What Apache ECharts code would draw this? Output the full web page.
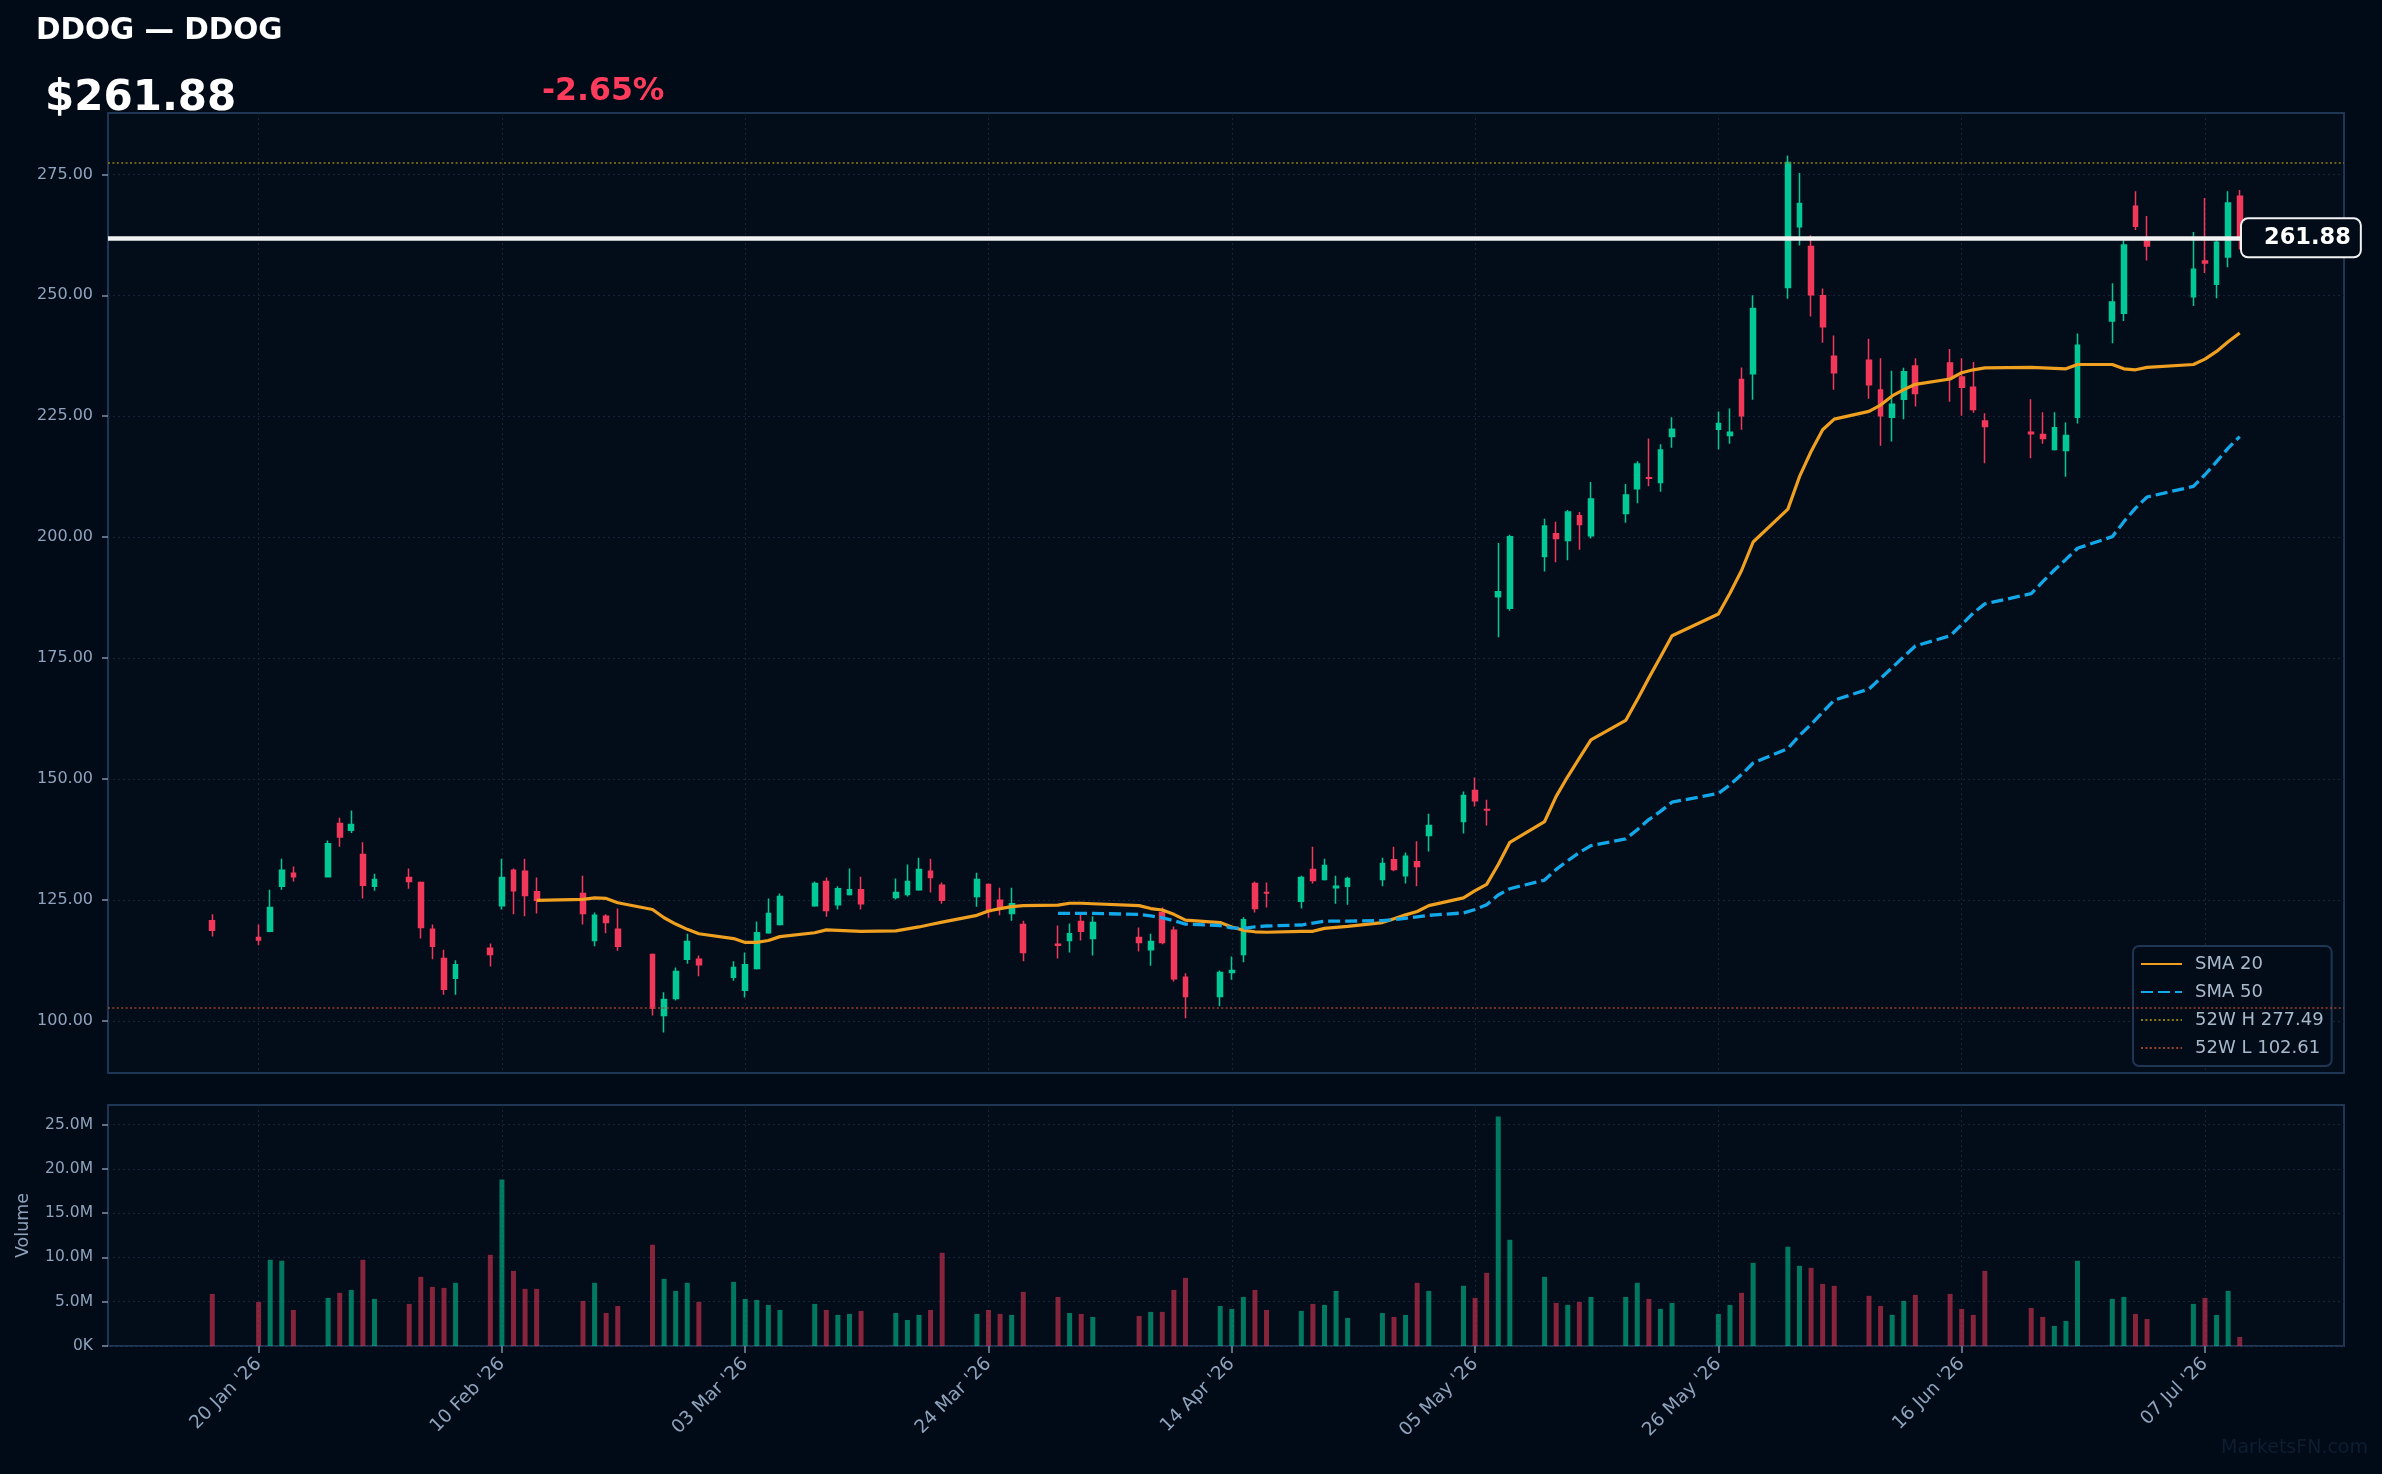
<!DOCTYPE html>
<html>
<head>
<meta charset="utf-8">
<title>DDOG — DDOG</title>
<script src="https://cdn.jsdelivr.net/npm/echarts@6/dist/echarts.min.js"></script>
<style>
  html, body { margin: 0; padding: 0; background: #010b17; }
  #chart { width: 2382px; height: 1474px; }
</style>
</head>
<body>
<div id="chart"></div>
<script>
// header
const ticker = 'DDOG';
const company = 'DDOG';
const lastPrice = 261.88;
const changePct = -2.65;
const high52 = 277.49;
const low52 = 102.61;

// trading days
const dates = [
  '2026-01-16', '2026-01-20', '2026-01-21', '2026-01-22', '2026-01-23',
  '2026-01-26', '2026-01-27', '2026-01-28', '2026-01-29', '2026-01-30',
  '2026-02-02', '2026-02-03', '2026-02-04', '2026-02-05', '2026-02-06',
  '2026-02-09', '2026-02-10', '2026-02-11', '2026-02-12', '2026-02-13',
  '2026-02-17', '2026-02-18', '2026-02-19', '2026-02-20',
  '2026-02-23', '2026-02-24', '2026-02-25', '2026-02-26', '2026-02-27',
  '2026-03-02', '2026-03-03', '2026-03-04', '2026-03-05', '2026-03-06',
  '2026-03-09', '2026-03-10', '2026-03-11', '2026-03-12', '2026-03-13',
  '2026-03-16', '2026-03-17', '2026-03-18', '2026-03-19', '2026-03-20',
  '2026-03-23', '2026-03-24', '2026-03-25', '2026-03-26', '2026-03-27',
  '2026-03-30', '2026-03-31', '2026-04-01', '2026-04-02',
  '2026-04-06', '2026-04-07', '2026-04-08', '2026-04-09', '2026-04-10',
  '2026-04-13', '2026-04-14', '2026-04-15', '2026-04-16', '2026-04-17',
  '2026-04-20', '2026-04-21', '2026-04-22', '2026-04-23', '2026-04-24',
  '2026-04-27', '2026-04-28', '2026-04-29', '2026-04-30', '2026-05-01',
  '2026-05-04', '2026-05-05', '2026-05-06', '2026-05-07', '2026-05-08',
  '2026-05-11', '2026-05-12', '2026-05-13', '2026-05-14', '2026-05-15',
  '2026-05-18', '2026-05-19', '2026-05-20', '2026-05-21', '2026-05-22',
  '2026-05-26', '2026-05-27', '2026-05-28', '2026-05-29',
  '2026-06-01', '2026-06-02', '2026-06-03', '2026-06-04', '2026-06-05',
  '2026-06-08', '2026-06-09', '2026-06-10', '2026-06-11', '2026-06-12',
  '2026-06-15', '2026-06-16', '2026-06-17', '2026-06-18',
  '2026-06-22', '2026-06-23', '2026-06-24', '2026-06-25', '2026-06-26',
  '2026-06-29', '2026-06-30', '2026-07-01', '2026-07-02',
  '2026-07-06', '2026-07-07', '2026-07-08', '2026-07-09', '2026-07-10'
];

const opens = [
  120.7, 117.2, 118.5, 127.8, 130.5, 129.8, 140.8, 139.4, 134.4, 127.8,
  129.6, 128.6, 118.9, 112.9, 108.8, 115.0, 123.8, 131.1, 130.9, 126.7,
  126.3, 116.6, 121.6, 118.9, 113.7, 101.1, 104.6, 112.7, 112.7, 109.0,
  106.3, 110.8, 118.2, 119.9, 123.8, 128.8, 124.0, 126.1, 127.1, 125.5,
  126.1, 127.1, 130.9, 128.0, 125.7, 128.2, 124.9, 122.2, 119.9, 115.8,
  116.6, 120.5, 117.0, 117.2, 114.7, 122.4, 118.7, 109.0, 105.0, 110.0,
  113.7, 128.4, 126.5, 124.7, 131.3, 129.2, 127.5, 127.8, 129.2, 133.3,
  130.0, 132.9, 138.3, 141.2, 147.6, 143.7, 187.7, 185.3, 196.0, 200.7,
  199.3, 204.4, 200.3, 204.9, 210.0, 212.3, 211.3, 220.8, 222.3, 221.0,
  232.6, 233.8, 251.6, 264.2, 260.1, 249.9, 237.4, 236.6, 230.4, 224.8,
  228.5, 235.4, 236.0, 233.1, 231.0, 224.0, 221.7, 221.2, 218.1, 217.9,
  224.8, 244.7, 246.3, 268.4, 261.2, 249.7, 257.1, 252.3, 257.9, 270.5
];
const highs = [
  122.0, 119.9, 127.1, 133.5, 131.9, 137.3, 142.0, 143.5, 136.9, 130.4,
  131.5, 128.8, 119.9, 114.7, 112.5, 116.0, 133.5, 131.5, 133.5, 129.6,
  130.0, 122.4, 122.0, 123.2, 113.9, 105.9, 111.0, 118.0, 113.5, 112.3,
  114.1, 120.5, 125.3, 126.3, 128.8, 129.6, 127.8, 131.5, 129.8, 129.4,
  132.3, 133.7, 133.5, 128.6, 130.6, 128.4, 127.5, 127.5, 120.7, 119.7,
  120.1, 122.0, 121.6, 119.3, 118.0, 123.4, 119.5, 109.8, 110.4, 113.3,
  121.4, 128.8, 128.6, 130.0, 136.0, 133.5, 130.0, 129.8, 133.7, 136.0,
  134.8, 137.1, 142.8, 147.4, 150.3, 145.7, 198.8, 200.5, 203.8, 203.2,
  205.6, 205.2, 211.4, 211.0, 215.7, 220.4, 219.2, 224.8, 226.0, 226.6,
  235.1, 250.0, 278.9, 275.3, 262.4, 251.4, 241.7, 241.0, 237.0, 234.4,
  235.0, 237.0, 238.9, 237.0, 236.2, 225.6, 228.5, 225.8, 225.8, 223.7,
  242.1, 252.5, 261.4, 271.5, 266.4, 263.1, 270.1, 261.4, 271.5, 271.8
];
const lows = [
  117.4, 115.6, 118.3, 127.1, 128.8, 129.6, 136.0, 138.8, 125.3, 126.9,
  127.3, 117.0, 112.7, 105.4, 105.4, 111.2, 123.0, 122.0, 121.6, 122.2,
  119.9, 115.4, 118.1, 114.5, 101.1, 97.6, 104.2, 111.8, 109.2, 108.3,
  104.8, 110.6, 118.0, 119.7, 123.6, 121.5, 123.0, 125.9, 123.0, 125.1,
  125.7, 126.9, 126.5, 124.2, 123.6, 121.3, 121.8, 120.7, 112.3, 112.9,
  114.1, 116.6, 113.5, 114.3, 111.4, 115.8, 108.1, 100.5, 103.0, 108.5,
  112.1, 122.4, 123.4, 123.2, 128.4, 129.0, 124.2, 124.0, 127.8, 130.9,
  128.4, 127.8, 135.0, 138.7, 144.3, 140.4, 179.3, 184.8, 192.9, 194.8,
  195.2, 197.4, 199.7, 203.0, 207.0, 210.5, 209.4, 218.5, 218.1, 219.3,
  222.2, 228.4, 249.3, 260.3, 245.6, 240.2, 230.5, 228.6, 218.9, 219.8,
  224.4, 227.0, 228.0, 225.1, 225.7, 215.3, 216.3, 219.3, 217.9, 212.5,
  223.5, 240.1, 244.7, 263.5, 257.2, 247.8, 254.6, 249.4, 255.8, 259.5
];
const closes = [
  118.7, 116.7, 123.4, 131.1, 129.8, 136.6, 138.0, 140.6, 128.0, 129.2,
  128.8, 119.3, 115.4, 106.5, 111.6, 113.7, 129.6, 126.9, 125.9, 124.9,
  122.2, 121.8, 120.3, 115.4, 102.61, 104.4, 110.2, 116.4, 111.6, 111.0,
  111.6, 118.2, 122.2, 125.7, 128.4, 122.8, 127.3, 127.1, 124.2, 126.5,
  128.8, 131.3, 129.6, 124.9, 129.2, 122.6, 123.2, 124.2, 114.1, 115.6,
  118.0, 118.5, 120.3, 116.2, 116.4, 116.2, 108.7, 105.0, 110.0, 110.4,
  120.9, 123.2, 126.4, 129.6, 129.0, 132.1, 127.8, 129.4, 132.5, 131.3,
  134.0, 131.9, 140.4, 146.6, 145.5, 143.6, 188.7, 200.1, 202.3, 199.7,
  205.2, 202.6, 207.9, 208.7, 215.1, 212.2, 218.0, 222.3, 223.5, 221.7,
  225.1, 247.3, 277.49, 269.0, 250.1, 243.5, 234.0, 231.5, 225.1, 227.5,
  234.2, 229.7, 232.9, 231.0, 226.4, 222.9, 221.4, 220.4, 222.6, 221.0,
  239.7, 248.6, 260.4, 264.3, 260.2, 255.4, 256.7, 261.0, 269.1, 261.88
];

// volume, millions of shares
const volumes = [
  5.88, 4.98, 9.73, 9.62, 4.07, 5.43, 6.00, 6.33, 9.73, 5.32,
  4.75, 7.81, 6.67, 6.56, 7.13, 10.29, 18.78, 8.48, 6.45, 6.45,
  5.09, 7.13, 3.73, 4.52, 11.43, 7.58, 6.22, 7.13, 4.98, 7.24,
  5.32, 5.20, 4.64, 4.07, 4.75, 4.07, 3.51, 3.62, 3.96, 3.73,
  2.94, 3.51, 4.07, 10.52, 3.62, 4.07, 3.62, 3.51, 6.11, 5.54,
  3.73, 3.62, 3.28, 3.39, 3.85, 3.85, 6.33, 7.69, 4.52, 4.19,
  5.54, 6.33, 4.07, 3.96, 4.75, 4.64, 6.22, 3.17, 3.73, 3.28,
  3.51, 7.13, 6.22, 6.79, 5.43, 8.26, 25.90, 11.99, 7.81, 4.86,
  4.64, 4.98, 5.54, 5.54, 7.13, 5.32, 4.19, 4.86, 3.62, 4.64,
  6.00, 9.39, 11.20, 9.05, 8.82, 7.01, 6.79, 5.66, 4.52, 3.51,
  5.09, 5.77, 5.88, 4.19, 3.51, 8.48, 4.30, 3.28, 2.26, 2.83,
  9.62, 5.32, 5.54, 3.62, 3.05, 4.75, 5.43, 3.51, 6.22, 1.02
];

// moving averages as drawn
const sma20 = [
  null, null, null, null, null, null, null, null, null, null,
  null, null, null, null, null, null, null, null, null, 124.9,
  125.1, 125.4, 125.3, 124.4, 123.0, 121.3, 120.0, 118.9, 118.0, 117.0,
  116.2, 116.2, 116.6, 117.4, 118.2, 118.8, 118.7, 118.6, 118.5, 118.6,
  119.0, 119.4, 119.9, 120.4, 121.8, 122.7, 123.2, 123.6, 123.8, 123.9,
  124.3, 124.3, 124.2, 123.8, 123.2, 122.9, 122.0, 120.8, 120.3, 119.4,
  118.7, 118.4, 118.3, 118.5, 118.5, 119.1, 119.3, 119.5, 120.3, 121.1,
  121.9, 122.6, 123.8, 125.4, 126.9, 128.2, 132.3, 136.9, 141.2, 146.4,
  150.5, 154.3, 158.1, 162.1, 166.4, 170.9, 175.2, 179.6, 184.1, 188.4,
  193.1, 199.0, 205.8, 212.5, 217.7, 222.2, 224.4, 226.0, 227.3, 229.2,
  230.5, 231.6, 232.7, 234.0, 234.6, 235.0, 235.1, 235.0, 234.9, 234.8,
  235.7, 235.7, 234.8, 234.6, 235.1, 235.7, 236.8, 238.4, 240.4, 242.2
];
const sma50 = [
  null, null, null, null, null, null, null, null, null, null,
  null, null, null, null, null, null, null, null, null, null,
  null, null, null, null, null, null, null, null, null, null,
  null, null, null, null, null, null, null, null, null, null,
  null, null, null, null, null, null, null, null, null, 122.2,
  122.2, 122.2, 122.2, 122.0, 121.7, 121.3, 120.7, 120.0, 119.7, 119.2,
  119.1, 119.4, 119.6, 119.8, 120.2, 120.6, 120.6, 120.6, 120.7, 120.9,
  121.2, 121.5, 121.8, 122.3, 123.0, 124.0, 126.0, 127.3, 129.1, 131.3,
  133.1, 134.8, 136.2, 137.6, 139.5, 141.6, 143.3, 145.2, 147.0, 148.8,
  150.9, 153.3, 156.3, 159.0, 161.3, 163.8, 166.3, 168.6, 170.8, 173.0,
  175.3, 177.5, 179.6, 181.9, 184.3, 186.2, 188.3, 190.8, 193.2, 195.4,
  197.7, 200.1, 203.2, 206.0, 208.3, 210.5, 212.9, 215.6, 218.4, 220.8
];

// axis ticks
const tickDates = ['2026-01-20', '2026-02-10', '2026-03-03', '2026-03-24', '2026-04-14',
  '2026-05-05', '2026-05-26', '2026-06-16', '2026-07-07'];
const tickLabels = ["20 Jan '26", "10 Feb '26", "03 Mar '26", "24 Mar '26", "14 Apr '26",
  "05 May '26", "26 May '26", "16 Jun '26", "07 Jul '26"];
const priceTicks = [100, 125, 150, 175, 200, 225, 250, 275];
const volTicks = [0, 5, 10, 15, 20, 25];

const FONT = '"DejaVu Sans", sans-serif';
const BG = '#010b17';
const PLOT_BG = '#030c19';
const UP = '#00c896';
const DOWN = '#f2385a';
const UP_VOL = 'rgba(0, 200, 150, 0.58)';
const DOWN_VOL = 'rgba(242, 56, 90, 0.55)';
const TXT = '#8fa3bd';
const GRID_LINE = '#14253a';
const FRAME = '#1e3553';

// calendar days across the visible x range (weekends stay empty)
const days = [];
for (let t = Date.UTC(2026, 0, 7); t <= Date.UTC(2026, 6, 19); t += 86400000) {
  days.push(new Date(t).toISOString().slice(0, 10));
}
const pos = {};
dates.forEach((d, i) => { pos[d] = i; });

const candleData = days.map(d => {
  const i = pos[d];
  return i === undefined ? ['-', '-', '-', '-'] : [opens[i], closes[i], lows[i], highs[i]];
});
const volData = days.map(d => {
  const i = pos[d];
  if (i === undefined) return '-';
  return { value: volumes[i], itemStyle: { color: closes[i] >= opens[i] ? UP_VOL : DOWN_VOL } };
});
const lineData = arr => days.map(d => {
  const i = pos[d];
  return i === undefined || arr[i] == null ? '-' : arr[i];
});

const tickSet = new Set(tickDates);
const onTick = (idx, val) => tickSet.has(val);

const chart = echarts.init(document.getElementById('chart'), null, { renderer: 'canvas' });

const xBase = {
  type: 'category',
  data: days,
  boundaryGap: false,
  axisLine: { show: false },
  splitLine: { show: true, interval: onTick, lineStyle: { color: GRID_LINE, type: [2, 3], width: 1 } },
};

const hName = '52W H ' + high52.toFixed(2);
const lName = '52W L ' + low52.toFixed(2);

chart.setOption({
  backgroundColor: BG,
  animation: false,
  textStyle: { fontFamily: FONT },
  title: [
    { text: ticker + ' — ' + company, left: 36, top: 16, padding: 0,
      textStyle: { color: '#ffffff', fontSize: 29.5, fontWeight: 'bold', fontFamily: FONT } },
    { text: '$' + lastPrice.toFixed(2), left: 45, top: 78, padding: 0,
      textStyle: { color: '#ffffff', fontSize: 42, fontWeight: 'bold', fontFamily: FONT } },
    { text: changePct.toFixed(2) + '%', left: 542, top: 76, padding: 0,
      textStyle: { color: '#ff3b5c', fontSize: 31.5, fontWeight: 'bold', fontFamily: FONT } },
  ],
  legend: {
    data: ['SMA 20', 'SMA 50', hName, lName],
    orient: 'vertical',
    left: 2133, top: 946,
    padding: [9, 8, 9, 7],
    itemWidth: 41, itemHeight: 14, itemGap: 10,
    backgroundColor: '#020c18',
    borderColor: FRAME, borderWidth: 2, borderRadius: 6,
    selectedMode: false,
    itemStyle: { opacity: 0 },
    textStyle: { color: '#a9b9cc', fontSize: 18, fontFamily: FONT, padding: [0, 0, 0, 8] },
  },
  grid: [
    { left: 108, right: 38, top: 113, height: 960, show: true, backgroundColor: PLOT_BG,
      borderColor: FRAME, borderWidth: 2, outerBoundsMode: 'none' },
    { left: 108, right: 38, top: 1105, height: 241, show: true, backgroundColor: PLOT_BG,
      borderColor: FRAME, borderWidth: 2, outerBoundsMode: 'none' },
  ],
  xAxis: [
    Object.assign({}, xBase, { gridIndex: 0, axisTick: { show: false }, axisLabel: { show: false } }),
    Object.assign({}, xBase, {
      gridIndex: 1,
      axisTick: { show: true, interval: onTick, length: 7, lineStyle: { color: '#7d90a8', width: 1.5 } },
      axisLabel: {
        interval: onTick, rotate: 45, margin: 15,
        color: TXT, fontSize: 18.5, fontFamily: FONT,
        formatter: v => tickLabels[tickDates.indexOf(v)],
      },
    }),
  ],
  yAxis: [
    {
      type: 'value', gridIndex: 0, min: 89.2, max: 287.7,
      axisLine: { show: false },
      axisTick: { show: true, length: 6, customValues: priceTicks, lineStyle: { color: '#7d90a8', width: 1.5 } },
      axisLabel: { customValues: priceTicks, formatter: v => v.toFixed(2), color: TXT, fontSize: 16, margin: 15, fontFamily: FONT },
      splitLine: { show: true, lineStyle: { color: GRID_LINE, type: [2, 3], width: 1 } },
    },
    {
      type: 'value', gridIndex: 1, min: 0, max: 27.2,
      name: 'Volume', nameLocation: 'middle', nameGap: 76,
      nameTextStyle: { color: TXT, fontSize: 17.5, fontFamily: FONT },
      axisLine: { show: false },
      axisTick: { show: true, length: 6, customValues: volTicks, lineStyle: { color: '#7d90a8', width: 1.5 } },
      axisLabel: { customValues: volTicks, formatter: v => (v === 0 ? '0K' : v.toFixed(1) + 'M'), color: TXT, fontSize: 15.5, margin: 15, fontFamily: FONT },
      splitLine: { show: true, lineStyle: { color: GRID_LINE, type: [2, 3], width: 1 } },
    },
  ],
  series: [
    {
      name: 'Price', type: 'candlestick', xAxisIndex: 0, yAxisIndex: 0, z: 2,
      data: candleData, barWidth: 5.2,
      itemStyle: { color: UP, color0: DOWN, borderColor: UP, borderColor0: DOWN, borderWidth: 1.5 },
      markLine: {
        silent: true, symbol: 'none', z: 10,
        data: [{ yAxis: lastPrice }],
        lineStyle: { color: '#f2f2f2', width: 4.5, type: 'solid' },
        label: {
          show: true, position: 'end', distance: -102,
          formatter: lastPrice.toFixed(2),
          color: '#ffffff', fontSize: 22.5, fontWeight: 'bold', fontFamily: FONT,
          backgroundColor: '#020c18', borderColor: '#f2f2f2', borderWidth: 2, borderRadius: 6,
          padding: [6, 9, 6, 22], lineHeight: 25,
        },
      },
    },
    {
      name: 'SMA 20', type: 'line', xAxisIndex: 0, yAxisIndex: 0, z: 3,
      data: lineData(sma20), connectNulls: true, symbol: 'none', showSymbol: false,
      lineStyle: { color: '#f0a020', width: 3.2 },
    },
    {
      name: 'SMA 50', type: 'line', xAxisIndex: 0, yAxisIndex: 0, z: 3,
      data: lineData(sma50), connectNulls: true, symbol: 'none', showSymbol: false,
      lineStyle: { color: '#12a8ea', width: 3.3, type: [12, 5] },
    },
    {
      name: hName, type: 'line', xAxisIndex: 0, yAxisIndex: 0, data: [], symbol: 'none',
      lineStyle: { color: '#8d7d12', width: 1.6, type: [2, 2.4] },
      markLine: { silent: true, symbol: 'none', label: { show: false }, data: [{ yAxis: high52 }],
        lineStyle: { color: '#8d7d12', width: 1.6, type: [2, 2.4] } },
    },
    {
      name: lName, type: 'line', xAxisIndex: 0, yAxisIndex: 0, data: [], symbol: 'none',
      lineStyle: { color: '#9a4030', width: 1.6, type: [2, 2.4] },
      markLine: { silent: true, symbol: 'none', label: { show: false }, data: [{ yAxis: low52 }],
        lineStyle: { color: '#9a4030', width: 1.6, type: [2, 2.4] } },
    },
    {
      name: 'Volume', type: 'bar', xAxisIndex: 1, yAxisIndex: 1,
      data: volData, barWidth: 5,
    },
  ],
  graphic: [
    { type: 'text', right: 14, bottom: 16, silent: true,
      style: { text: 'MarketsFN.com', fill: '#0e1d30', font: '19px "DejaVu Sans"' } },
  ],
});

window.addEventListener('resize', () => chart.resize());
</script>
</body>
</html>
